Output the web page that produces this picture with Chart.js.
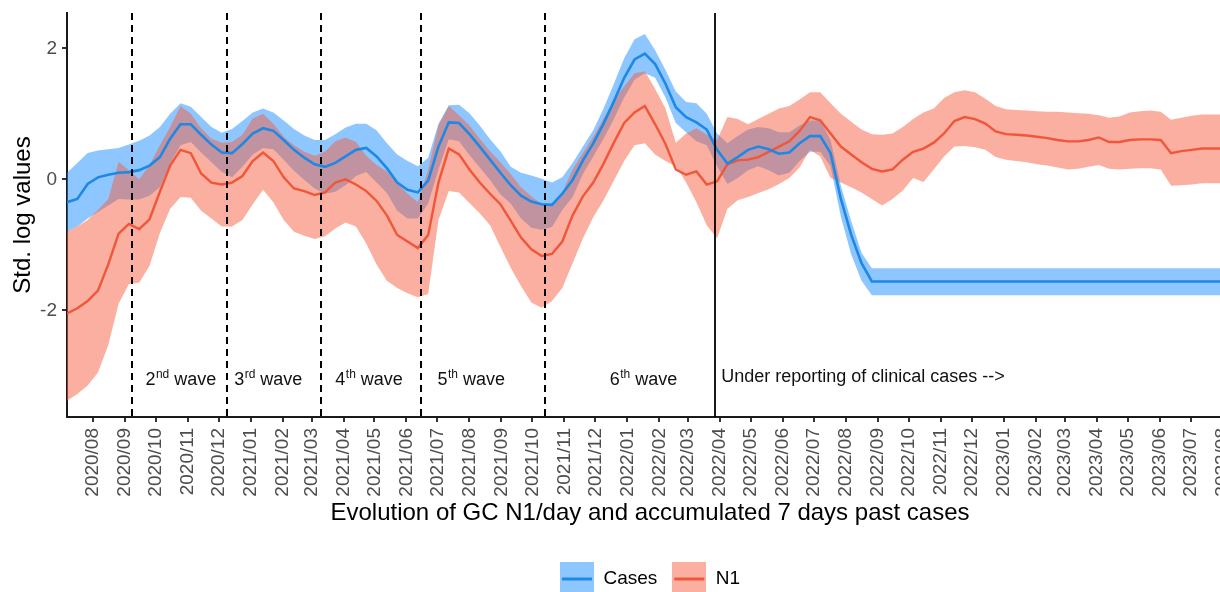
<!DOCTYPE html>
<html>
<head>
<meta charset="utf-8">
<title>GC N1 vs cases</title>
<script src="https://cdn.jsdelivr.net/npm/chart.js@4.4.1/dist/chart.umd.min.js"></script>
<style>
    html, body { margin: 0; padding: 0; background: #ffffff; }
    #wrap { width: 1220px; height: 592px; overflow: hidden; position: relative; }
    canvas { display: block; }
</style>
</head>
<body>
<div id="wrap"><canvas id="waveChart" width="1240" height="600"></canvas></div>
<script>
// Sampling grid: one value every 10 days from 2020-07-07
const startDate = '2020-07-07';
const stepDays = 10;

// Cases (accumulated 7 days past cases), standardised log values
const casesMid = [
    -0.35, -0.30, -0.07, 0.03, 0.07, 0.10, 0.11, 0.14, 0.21, 0.34,
    0.62, 0.84, 0.84, 0.68, 0.53, 0.41, 0.40, 0.54, 0.70, 0.78,
    0.74, 0.60, 0.45, 0.33, 0.23, 0.19, 0.25, 0.35, 0.45, 0.48,
    0.35, 0.17, -0.05, -0.16, -0.20, -0.02, 0.50, 0.87, 0.86, 0.69,
    0.50, 0.30, 0.10, -0.09, -0.25, -0.34, -0.38, -0.39, -0.22, -0.01,
    0.29, 0.55, 0.85, 1.19, 1.55, 1.83, 1.92, 1.76, 1.46, 1.10,
    0.95, 0.87, 0.76, 0.45, 0.24, 0.34, 0.45, 0.50, 0.46, 0.39,
    0.41, 0.55, 0.66, 0.66, 0.40, -0.30, -0.85, -1.28, -1.56, -1.56,
    -1.56, -1.56, -1.56, -1.56, -1.56, -1.56, -1.56, -1.56, -1.56, -1.56,
    -1.56, -1.56, -1.56, -1.56, -1.56, -1.56, -1.56, -1.56, -1.56, -1.56,
    -1.56, -1.56, -1.56, -1.56, -1.56, -1.56, -1.56, -1.56, -1.56, -1.56,
    -1.56, -1.56, -1.56, -1.56
];
const casesUpper = [
    0.10, 0.25, 0.40, 0.44, 0.46, 0.48, 0.53, 0.59, 0.67, 0.80,
    1.00, 1.16, 1.11, 0.95, 0.80, 0.71, 0.77, 0.89, 1.02, 1.08,
    1.02, 0.90, 0.77, 0.67, 0.60, 0.60, 0.69, 0.79, 0.85, 0.85,
    0.75, 0.55, 0.38, 0.28, 0.20, 0.33, 0.85, 1.13, 1.14, 1.01,
    0.82, 0.61, 0.43, 0.19, 0.10, 0.06, 0.01, -0.05, 0.03, 0.25,
    0.50, 0.75, 1.08, 1.46, 1.85, 2.14, 2.22, 1.97, 1.67, 1.34,
    1.18, 1.16, 1.00, 0.70, 0.55, 0.66, 0.76, 0.80, 0.78, 0.72,
    0.72, 0.82, 0.90, 0.90, 0.60, -0.10, -0.64, -1.12, -1.36, -1.36,
    -1.36, -1.36, -1.36, -1.36, -1.36, -1.36, -1.36, -1.36, -1.36, -1.36,
    -1.36, -1.36, -1.36, -1.36, -1.36, -1.36, -1.36, -1.36, -1.36, -1.36,
    -1.36, -1.36, -1.36, -1.36, -1.36, -1.36, -1.36, -1.36, -1.36, -1.36,
    -1.36, -1.36, -1.36, -1.36
];
const casesLower = [
    -0.80, -0.72, -0.60, -0.50, -0.40, -0.30, -0.31, -0.31, -0.25, -0.12,
    0.24, 0.52, 0.57, 0.41, 0.26, 0.11, 0.03, 0.19, 0.38, 0.48,
    0.46, 0.30, 0.13, -0.01, -0.14, -0.22, -0.19, -0.09, 0.05, 0.11,
    -0.05, -0.21, -0.48, -0.60, -0.60, -0.37, 0.15, 0.61, 0.58, 0.37,
    0.18, -0.01, -0.23, -0.37, -0.60, -0.74, -0.77, -0.73, -0.47, -0.27,
    0.08, 0.35, 0.62, 0.92, 1.25, 1.52, 1.62, 1.55, 1.25, 0.86,
    0.72, 0.58, 0.52, 0.20, -0.07, 0.02, 0.14, 0.20, 0.14, 0.06,
    0.10, 0.28, 0.42, 0.42, 0.20, -0.57, -1.15, -1.55, -1.77, -1.77,
    -1.77, -1.77, -1.77, -1.77, -1.77, -1.77, -1.77, -1.77, -1.77, -1.77,
    -1.77, -1.77, -1.77, -1.77, -1.77, -1.77, -1.77, -1.77, -1.77, -1.77,
    -1.77, -1.77, -1.77, -1.77, -1.77, -1.77, -1.77, -1.77, -1.77, -1.77,
    -1.77, -1.77, -1.77, -1.77
];

// N1 (GC N1/day), standardised log values
const n1Mid = [
    -2.05, -1.97, -1.86, -1.70, -1.30, -0.83, -0.68, -0.76, -0.61, -0.19,
    0.21, 0.45, 0.40, 0.09, -0.05, -0.08, -0.05, 0.05, 0.28, 0.41,
    0.28, 0.03, -0.14, -0.18, -0.24, -0.20, -0.05, 0.00, -0.08, -0.18,
    -0.33, -0.55, -0.85, -0.95, -1.05, -0.85, -0.05, 0.47, 0.38, 0.15,
    -0.05, -0.22, -0.38, -0.63, -0.89, -1.07, -1.17, -1.14, -0.95, -0.55,
    -0.26, -0.05, 0.24, 0.56, 0.86, 1.02, 1.12, 0.84, 0.54, 0.15,
    0.07, 0.12, -0.08, -0.03, 0.23, 0.29, 0.30, 0.34, 0.42, 0.50,
    0.58, 0.74, 0.95, 0.90, 0.70, 0.50, 0.38, 0.26, 0.16, 0.12,
    0.15, 0.30, 0.42, 0.47, 0.56, 0.70, 0.89, 0.95, 0.92, 0.85,
    0.73, 0.69, 0.68, 0.67, 0.65, 0.63, 0.60, 0.58, 0.58, 0.60,
    0.64, 0.57, 0.57, 0.60, 0.61, 0.61, 0.60, 0.40, 0.43, 0.45,
    0.47, 0.47, 0.47, 0.47
];
const n1Upper = [
    -0.80, -0.72, -0.62, -0.47, -0.30, 0.27, 0.14, 0.00, 0.22, 0.52,
    0.80, 1.12, 1.00, 0.78, 0.62, 0.56, 0.57, 0.68, 0.93, 1.00,
    0.85, 0.65, 0.52, 0.42, 0.36, 0.42, 0.58, 0.64, 0.57, 0.36,
    0.22, 0.12, -0.06, -0.22, -0.35, 0.15, 0.82, 1.12, 0.98, 0.82,
    0.62, 0.43, 0.26, 0.08, -0.12, -0.26, -0.38, -0.38, -0.20, 0.15,
    0.40, 0.65, 0.93, 1.20, 1.42, 1.62, 1.65, 1.38, 1.08, 0.56,
    0.70, 0.78, 0.68, 0.60, 0.95, 0.92, 0.84, 0.92, 1.00, 1.08,
    1.12, 1.22, 1.33, 1.33, 1.16, 1.00, 0.88, 0.76, 0.69, 0.68,
    0.70, 0.80, 0.92, 1.02, 1.08, 1.24, 1.33, 1.36, 1.33, 1.23,
    1.12, 1.07, 1.06, 1.05, 1.04, 1.03, 1.03, 1.02, 1.01, 1.00,
    0.98, 0.94, 0.96, 1.02, 1.04, 1.05, 1.03, 0.91, 0.94, 0.97,
    0.99, 0.99, 0.99, 0.99
];
const n1Lower = [
    -3.38, -3.28, -3.15, -2.95, -2.53, -1.90, -1.60, -1.58, -1.32, -0.82,
    -0.45, -0.27, -0.28, -0.48, -0.60, -0.72, -0.72, -0.62, -0.38, -0.16,
    -0.35, -0.62, -0.80, -0.86, -0.91, -0.87, -0.75, -0.66, -0.72, -0.98,
    -1.30, -1.55, -1.66, -1.74, -1.80, -1.75, -0.62, -0.18, -0.20, -0.36,
    -0.52, -0.70, -1.03, -1.35, -1.63, -1.88, -1.96, -1.86, -1.66, -1.28,
    -0.90, -0.58, -0.32, -0.02, 0.28, 0.52, 0.55, 0.38, 0.28, 0.20,
    -0.05, -0.35, -0.70, -0.90, -0.45, -0.32, -0.27, -0.21, -0.15, -0.07,
    0.02, 0.18, 0.45, 0.35, 0.02, -0.05, -0.12, -0.20, -0.30, -0.40,
    -0.30, -0.17, 0.02, -0.04, 0.15, 0.35, 0.50, 0.51, 0.49, 0.45,
    0.34, 0.30, 0.28, 0.26, 0.23, 0.21, 0.18, 0.15, 0.16, 0.19,
    0.22, 0.16, 0.15, 0.16, 0.17, 0.17, 0.15, -0.10, -0.09, -0.08,
    -0.06, -0.06, -0.06, -0.06
];

// Axis ticks
const monthLabels = [
    '2020/08', '2020/09', '2020/10', '2020/11', '2020/12',
    '2021/01', '2021/02', '2021/03', '2021/04', '2021/05', '2021/06',
    '2021/07', '2021/08', '2021/09', '2021/10', '2021/11', '2021/12',
    '2022/01', '2022/02', '2022/03', '2022/04', '2022/05', '2022/06',
    '2022/07', '2022/08', '2022/09', '2022/10', '2022/11', '2022/12',
    '2023/01', '2023/02', '2023/03', '2023/04', '2023/05', '2023/06',
    '2023/07', '2023/08'
];
const yTicks = [-2, 0, 2];

// Wave boundaries and labels
const waveBreaks = ['2020-09-08', '2020-12-09', '2021-03-10', '2021-06-15', '2021-10-13'];
const reportingCut = '2022-03-27';
const waveNumbers = ['2', '3', '4', '5', '6'];
const waveSuffixes = ['nd', 'rd', 'th', 'th', 'th'];
const waveLabelDates = ['2020-09-21', '2020-12-16', '2021-03-24', '2021-07-01', '2021-12-15'];
const reportingText = 'Under reporting of clinical cases -->';
const reportingTextDate = '2022-04-02';

// Colours
const colors = {
    cases: '#1E88E5',
    casesBand: 'rgba(30, 144, 255, 0.5)',
    n1: '#F0573A',
    n1Band: 'rgba(245, 95, 65, 0.5)',
    axis: '#1a1a1a',
    tickText: '#4d4d4d'
};

const FONT = "'Liberation Sans', Arial, Helvetica, sans-serif";
Chart.defaults.font.family = FONT;

// Date helpers (days since epoch)
function toDay(str) {
    const p = str.split(/[-\/]/).map(Number);
    return Date.UTC(p[0], p[1] - 1, p[2] || 1) / 86400000;
}

const day0 = toDay(startDate);
function toPoints(values) {
    return values.map((v, i) => ({ x: day0 + i * stepDays, y: v }));
}

function legendKey(fill, line) {
    const c = document.createElement('canvas');
    c.width = 34;
    c.height = 34;
    const g = c.getContext('2d');
    g.fillStyle = fill;
    g.fillRect(0, 0, 34, 34);
    g.strokeStyle = line;
    g.lineWidth = 3;
    g.beginPath();
    g.moveTo(2, 17);
    g.lineTo(32, 17);
    g.stroke();
    return c;
}

// Vertical wave lines and labels
const waveAnnotations = {
    id: 'waveAnnotations',
    afterDatasetsDraw(chart) {
        const { ctx, chartArea, scales } = chart;
        const x = scales.x;
        const y = scales.y;
        ctx.save();
        ctx.strokeStyle = '#000';
        ctx.lineWidth = 2;
        ctx.setLineDash([7, 5]);
        waveBreaks.forEach(d => {
            const px = Math.round(x.getPixelForValue(toDay(d)));
            ctx.beginPath();
            ctx.moveTo(px, chartArea.top);
            ctx.lineTo(px, chartArea.bottom);
            ctx.stroke();
        });
        ctx.setLineDash([]);
        ctx.lineWidth = 1.8;
        const cx = Math.round(x.getPixelForValue(toDay(reportingCut)));
        ctx.beginPath();
        ctx.moveTo(cx, chartArea.top);
        ctx.lineTo(cx, chartArea.bottom);
        ctx.stroke();

        // labels
        const baseY = y.getPixelForValue(-3.14);
        ctx.fillStyle = '#111';
        ctx.textAlign = 'left';
        ctx.textBaseline = 'alphabetic';
        waveNumbers.forEach((num, i) => {
            let px = x.getPixelForValue(toDay(waveLabelDates[i]));
            ctx.font = '18px ' + FONT;
            ctx.fillText(num, px, baseY);
            px += ctx.measureText(num).width;
            ctx.font = '12px ' + FONT;
            ctx.fillText(waveSuffixes[i], px + 0.5, baseY - 7);
            px += ctx.measureText(waveSuffixes[i]).width + 0.5;
            ctx.font = '18px ' + FONT;
            ctx.fillText(' wave', px, baseY);
        });
        ctx.font = '18px ' + FONT;
        ctx.fillText(reportingText, x.getPixelForValue(toDay(reportingTextDate)), baseY - 3);
        ctx.restore();
    }
};

function createWaveChart() {
    const ctx = document.getElementById('waveChart').getContext('2d');
    const casesKey = legendKey(colors.casesBand, colors.cases);
    const n1Key = legendKey(colors.n1Band, colors.n1);

    new Chart(ctx, {
        type: 'line',
        data: {
            datasets: [
                {
                    label: 'Cases',
                    data: toPoints(casesMid),
                    borderColor: colors.cases,
                    borderWidth: 2.6,
                    pointRadius: 0,
                    fill: false,
                    tension: 0
                },
                {
                    label: 'N1',
                    data: toPoints(n1Mid),
                    borderColor: colors.n1,
                    borderWidth: 2.4,
                    pointRadius: 0,
                    fill: false,
                    tension: 0
                },
                {
                    label: 'N1 upper',
                    data: toPoints(n1Upper),
                    borderWidth: 0,
                    borderColor: 'rgba(0,0,0,0)',
                    backgroundColor: colors.n1Band,
                    pointRadius: 0,
                    fill: '+1',
                    tension: 0
                },
                {
                    label: 'N1 lower',
                    data: toPoints(n1Lower),
                    borderWidth: 0,
                    borderColor: 'rgba(0,0,0,0)',
                    pointRadius: 0,
                    fill: false,
                    tension: 0
                },
                {
                    label: 'Cases upper',
                    data: toPoints(casesUpper),
                    borderWidth: 0,
                    borderColor: 'rgba(0,0,0,0)',
                    backgroundColor: colors.casesBand,
                    pointRadius: 0,
                    fill: '+1',
                    tension: 0
                },
                {
                    label: 'Cases lower',
                    data: toPoints(casesLower),
                    borderWidth: 0,
                    borderColor: 'rgba(0,0,0,0)',
                    pointRadius: 0,
                    fill: false,
                    tension: 0
                }
            ]
        },
        options: {
            responsive: false,
            animation: false,
            events: [],
            layout: {
                padding: { left: 0, right: 7, top: 13, bottom: 1.5 }
            },
            plugins: {
                tooltip: { enabled: false },
                legend: {
                    position: 'bottom',
                    fullSize: false,
                    labels: {
                        usePointStyle: true,
                        pointStyleWidth: 34,
                        padding: 15,
                        color: '#1a1a1a',
                        font: { size: 19 },
                        generateLabels: function() {
                            return [
                                { text: 'Cases', pointStyle: casesKey, fillStyle: colors.casesBand, strokeStyle: colors.cases, lineWidth: 0, hidden: false, datasetIndex: 0 },
                                { text: 'N1', pointStyle: n1Key, fillStyle: colors.n1Band, strokeStyle: colors.n1, lineWidth: 0, hidden: false, datasetIndex: 1 }
                            ];
                        }
                    }
                }
            },
            scales: {
                x: {
                    type: 'linear',
                    min: day0,
                    max: day0 + (casesMid.length - 1) * stepDays,
                    afterBuildTicks: function(axis) {
                        axis.ticks = monthLabels.map(m => ({ value: toDay(m) }));
                    },
                    afterFit: function(axis) {
                        axis.height = 137.5;
                        axis.paddingLeft = 0;
                        axis.paddingRight = 0;
                    },
                    ticks: {
                        autoSkip: false,
                        minRotation: 90,
                        maxRotation: 90,
                        padding: 6,
                        color: colors.tickText,
                        font: { size: 19 },
                        callback: function(value, index) {
                            return monthLabels[index];
                        }
                    },
                    grid: {
                        drawOnChartArea: false,
                        drawTicks: true,
                        tickLength: 5,
                        lineWidth: 2,
                        color: '#333333'
                    },
                    border: { display: true, color: colors.axis, width: 2 },
                    title: {
                        display: true,
                        text: 'Evolution of GC N1/day and accumulated 7 days past cases',
                        color: '#000000',
                        font: { size: 24 },
                        padding: { top: 0, bottom: 27 }
                    }
                },
                y: {
                    min: -3.63,
                    max: 2.54,
                    afterBuildTicks: function(axis) {
                        axis.ticks = yTicks.map(v => ({ value: v }));
                    },
                    afterFit: function(axis) {
                        axis.width = 67;
                        axis.paddingTop = 0;
                        axis.paddingBottom = 0;
                    },
                    ticks: {
                        padding: 5,
                        color: colors.tickText,
                        font: { size: 19 }
                    },
                    grid: {
                        drawOnChartArea: false,
                        drawTicks: true,
                        tickLength: 5,
                        lineWidth: 2,
                        color: '#333333'
                    },
                    border: { display: true, color: colors.axis, width: 2 },
                    title: {
                        display: true,
                        text: 'Std. log values',
                        color: '#000000',
                        font: { size: 24 },
                        padding: { top: 9, bottom: 0 }
                    }
                }
            }
        },
        plugins: [waveAnnotations]
    });
}

document.addEventListener('DOMContentLoaded', createWaveChart);
</script>
</body>
</html>
